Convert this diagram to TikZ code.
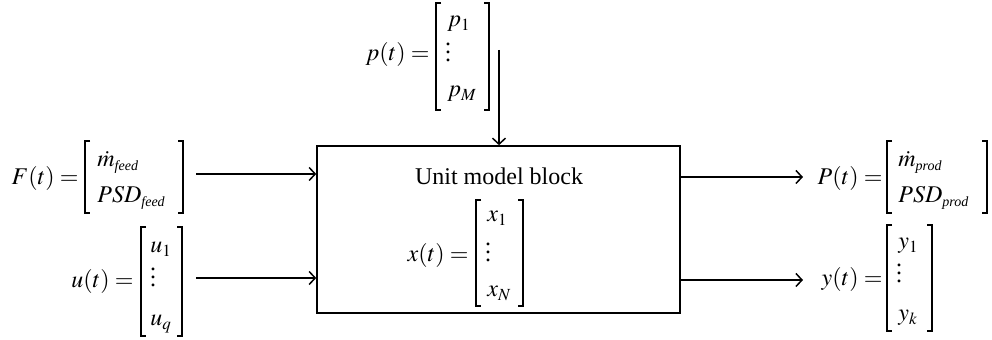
\documentclass[tikz,border=0pt]{standalone}
\usepackage{amsmath}
\usepackage{mathptmx}
\usepackage{fontspec}
\setmainfont{Liberation Serif}
\DeclareMathSizes{12}{12}{8.5}{6}
\usetikzlibrary{arrows.meta}
\newcommand{\smallsub}[1]{\mbox{\fontsize{7}{8}\selectfont\itshape #1}}
\begin{document}
\begin{tikzpicture}[x=0.5pt,y=-0.5pt,
  eq/.style={inner sep=0pt,font=\fontsize{12}{14.4}\selectfont},
  lab/.style={eq,anchor=base east},
  ent/.style={eq,anchor=base west},
  dts/.style={eq,anchor=base},
  brk/.style={line width=0.6pt},
  arr/.style={line width=0.75pt,-{Straight Barb[length=3pt,width=6.5pt]}}]
\useasboundingbox (0,0) rectangle (992,340);
% brackets: left x, right x, top y, bottom y
\newcommand{\brackets}[4]{%
  \draw[brk] ({#1+5},#3) -- (#1,#3) -- (#1,#4) -- ({#1+5},#4);
  \draw[brk] ({#2-5},#3) -- (#2,#3) -- (#2,#4) -- ({#2-5},#4);}
% unit block
\node[draw,line width=0.8pt,minimum width=181.5pt,minimum height=83.5pt,inner sep=0pt] (box) at (498.5,229.5) {};
\node[eq,anchor=base] (title) at (499,185) {Unit model block};
% x(t)
\node[lab] (xl) at (469,262) {$x(t) =$};
\brackets{476}{523}{200}{306}
\node[ent] (x1) at (487,222) {$x_1$};
\node[dts] (xd) at (488,262) {$\vdots$};
\node[ent] (xN) at (487,297) {$x_N$};
% p(t)
\node[lab] (pl) at (430,61) {$p(t) =$};
\brackets{436}{489}{3}{110}
\node[ent] (p1) at (447,27) {$p_1$};
\node[dts] (pd) at (448,62) {$\vdots$};
\node[ent] (pM) at (447,97) {$p_M$};
% F(t)
\node[lab] (Fl) at (79,185) {$F(t) =$};
\brackets{85}{183}{141}{213}
\node[ent] (F1) at (97,167) {$\dot m_{\smallsub{feed}}$};
\node[ent] (F2) at (97,203) {$\mathit{PSD}_{\smallsub{feed}}$};
% u(t)
\node[lab] (ul) at (134,288) {$u(t) =$};
\brackets{141}{182}{227}{336}
\node[ent] (u1) at (150,253) {$u_1$};
\node[dts] (ud) at (153,287) {$\vdots$};
\node[ent] (uq) at (150,326) {$u_q$};
% P(t)
\node[lab] (Pl) at (883,185) {$P(t) =$};
\brackets{887}{987}{141}{213}
\node[ent] (P1) at (898,167) {$\dot m_{\smallsub{prod}}$};
\node[ent] (P2) at (898,203) {$\mathit{PSD}_{\smallsub{prod}}$};
% y(t)
\node[lab] (yl) at (883,286) {$y(t) =$};
\brackets{887}{932}{225}{331}
\node[ent] (y1) at (898,249) {$y_1$};
\node[dts] (yd) at (899,283) {$\vdots$};
\node[ent] (yk) at (898,321) {$y_k$};
% connectors
\coordinate (fs) at (196,174);
\coordinate (us) at (196,278);
\coordinate (ps) at (499,50);
\coordinate (Pt) at (803,177);
\coordinate (yt) at (803,280);
\draw[arr] (fs) -- (fs -| box.west);
\draw[arr] (us) -- (us -| box.west);
\draw[arr] (ps) -- (ps |- box.north);
\draw[arr] (Pt -| box.east) -- (Pt);
\draw[arr] (yt -| box.east) -- (yt);
\end{tikzpicture}
\end{document}
